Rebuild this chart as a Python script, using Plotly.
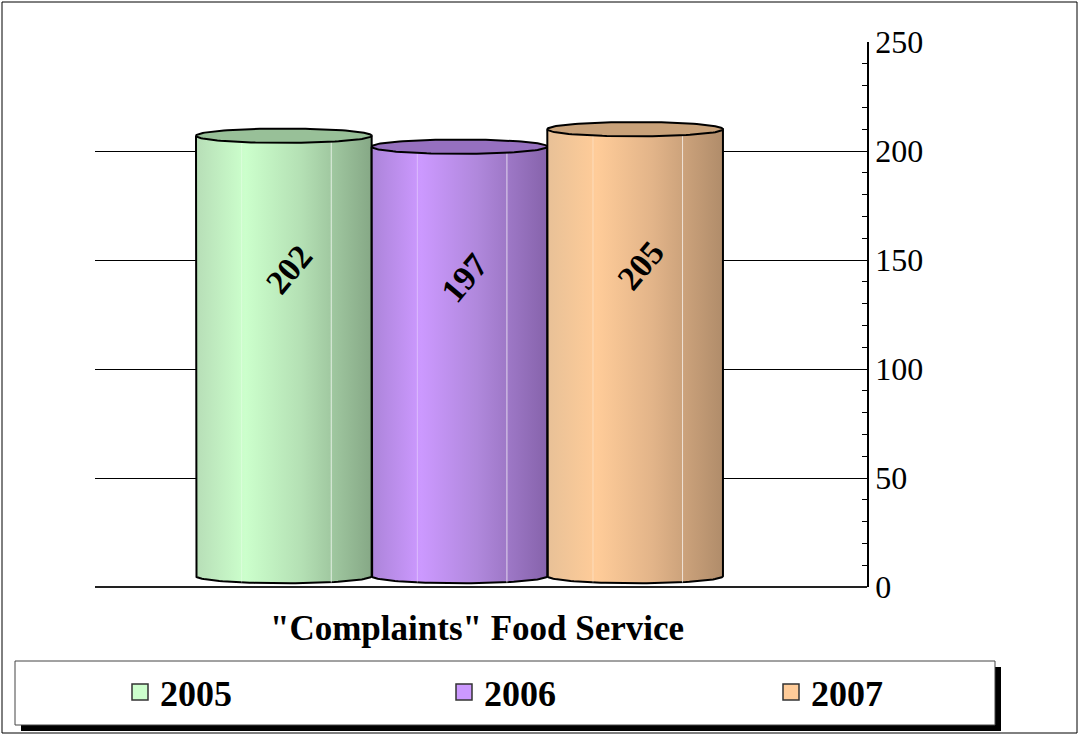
import numpy as np
import plotly.graph_objects as go

# ---- data ----
years = ["2005", "2006", "2007"]
values = [202, 197, 205]
title_text = '"Complaints" Food Service'
y_ticks = [0, 50, 100, 150, 200, 250]

# ---- styles ----
body_scales = [
    [[0, "#b7deb7"], [0.28, "#ccffcc"], [0.6, "#b4e0b4"], [1, "#86a886"]],
    [[0, "#ac84d9"], [0.28, "#cc99ff"], [0.6, "#b088dc"], [1, "#8663ab"]],
    [[0, "#e8c197"], [0.28, "#ffcc99"], [0.6, "#e2b489"], [1, "#b08c6a"]],
]
top_colors = ["#98c098", "#9670bf", "#c9a27a"]
legend_colors = ["#ccffcc", "#cc99ff", "#ffcc99"]
SERIF = "Liberation Serif, Times New Roman, serif"

depth = 5.0      # 3D offset of the cylinder (axis units)
ell_b = 3.3      # half-height of end ellipses (axis units)
half_w = 0.5     # half-width of each cylinder (category units)

W, H = 1080, 735
L, R, T, B = 95, 213, 42, 148
pw, ph = W - L - R, H - T - B


def px_x(px):
    return (px - L) / pw


def px_y(py):
    return (H - B - py) / ph


fig = go.Figure()
theta_bot = np.linspace(np.pi, 2 * np.pi, 60)
theta_top = np.linspace(0, 2 * np.pi, 120)

for i, (yr, v) in enumerate(zip(years, values)):
    xc = i
    x0, x1 = xc - half_w, xc + half_w
    bx = [x0, x0] + list(xc + half_w * np.cos(theta_bot)) + [x1, x1, x0]
    by = [v + depth, depth] + list(depth + ell_b * np.sin(theta_bot)) + [depth, v + depth, v + depth]
    fig.add_trace(go.Scatter(
        x=bx, y=by, mode="lines", fill="toself",
        fillgradient=dict(type="horizontal", colorscale=body_scales[i]),
        line=dict(color="black", width=2), showlegend=False, hoverinfo="skip",
    ))
    for frac, op in [(0.26, 0.35), (0.77, 0.7)]:
        xh = x0 + frac * 2 * half_w
        fig.add_trace(go.Scatter(
            x=[xh, xh], y=[depth - ell_b * 0.9, v + depth], mode="lines",
            line=dict(color="white", width=1), opacity=op,
            showlegend=False, hoverinfo="skip",
        ))
    fig.add_trace(go.Scatter(
        x=list(xc + half_w * np.cos(theta_top)),
        y=list(v + depth + ell_b * np.sin(theta_top)),
        mode="lines", fill="toself", fillcolor=top_colors[i],
        line=dict(color="black", width=2), showlegend=False, hoverinfo="skip",
    ))
    fig.add_annotation(
        x=xc + 0.03, y=v * 0.72, text="<b>%d</b>" % v, showarrow=False,
        textangle=-50, font=dict(family=SERIF, size=34, color="black"),
    )

# legend entries, one legend per year
legend_names = ["legend", "legend2", "legend3"]
legend_px = [120, 444, 771]
legend_layout = {}
for i, yr in enumerate(years):
    fig.add_trace(go.Scatter(
        x=[None], y=[None], mode="markers", name="<b>%s</b>" % yr,
        legend=legend_names[i],
        marker=dict(symbol="square", size=16, color=legend_colors[i],
                    line=dict(color="#333333", width=1.5)),
    ))
    legend_layout[legend_names[i]] = dict(
        orientation="h", x=px_x(legend_px[i]), xanchor="left",
        y=px_y(692), yanchor="middle",
        bgcolor="rgba(0,0,0,0)", borderwidth=0,
        font=dict(family=SERIF, size=36, color="black"),
    )

shapes = [
    dict(type="rect", xref="paper", yref="paper", x0=px_x(2), x1=px_x(1077),
         y0=px_y(733), y1=px_y(2), line=dict(color="black", width=1), layer="below"),
    dict(type="rect", xref="paper", yref="paper", x0=px_x(21), x1=px_x(1001),
         y0=px_y(731), y1=px_y(667), fillcolor="black", line=dict(width=0), layer="below"),
    dict(type="rect", xref="paper", yref="paper", x0=px_x(15), x1=px_x(995),
         y0=px_y(725), y1=px_y(661), fillcolor="white",
         line=dict(color="#444444", width=1), layer="below"),
]

fig.add_annotation(
    xref="paper", yref="paper", x=px_x(477), y=px_y(628),
    xanchor="center", yanchor="middle",
    text="<b>%s</b>" % title_text, showarrow=False,
    font=dict(family=SERIF, size=35, color="black"),
)

fig.update_layout(
    width=W, height=H,
    margin=dict(l=L, r=R, t=T, b=B),
    paper_bgcolor="white", plot_bgcolor="white",
    shapes=shapes,
    xaxis=dict(range=[-1.075, 3.32], visible=False, fixedrange=True),
    yaxis=dict(
        range=[0, 250], side="right", tickvals=y_ticks,
        showgrid=True, gridcolor="black", gridwidth=1,
        zeroline=True, zerolinecolor="#222222", zerolinewidth=1.5,
        showline=True, linecolor="black", linewidth=1.5,
        ticks="inside", ticklen=5, tickcolor="black",
        minor=dict(dtick=10, ticks="inside", ticklen=5, tickcolor="black", showgrid=False),
        tickfont=dict(family=SERIF, size=32, color="black"),
        fixedrange=True,
    ),
    showlegend=True,
    **legend_layout,
)

fig.write_html(
    "out.html",
    config={"displayModeBar": False},
    post_script="document.body.style.margin='0';document.body.style.overflow='hidden';",
)
